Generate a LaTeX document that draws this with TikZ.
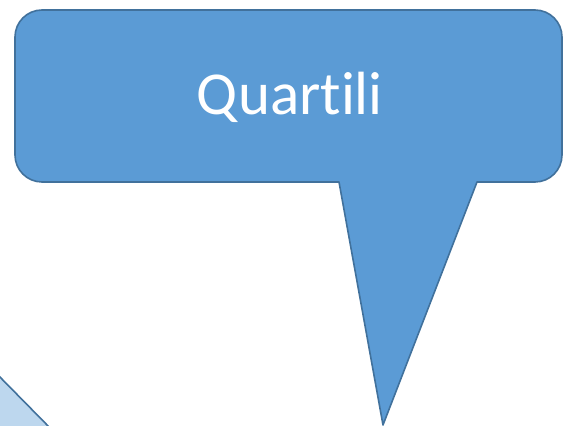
\documentclass[tikz,border=0pt]{standalone}
\usepackage{fontspec}
\setmainfont[Ligatures={NoCommon,NoRare,NoContextual}]{Carlito}
\definecolor{calloutfill}{HTML}{5B9BD5}
\definecolor{calloutline}{HTML}{41719C}
\definecolor{lightfill}{HTML}{BDD7EE}
\begin{document}
\begin{tikzpicture}[x=1pt,y=1pt,
  shapeline/.style={draw=calloutline,line width=1.6pt,line join=round},
  labeltext/.style={text=white,font=\fontsize{61}{70}\selectfont,inner sep=0pt}]
\useasboundingbox (0,0) rectangle (563,426);
\clip (0,0) rectangle (563,426);
% bottom-left light shape
\fill[lightfill] (-5,54) -- (53,-5) -- (-5,-5) -- cycle;
\draw[shapeline] (-5,54) -- (53,-5);
% callout
\draw[shapeline,fill=calloutfill]
  (339,244) -- (42,244) arc[start angle=270,end angle=180,radius=27pt]
  -- (15,389) arc[start angle=180,end angle=90,radius=27pt]
  -- (535,416) arc[start angle=90,end angle=0,radius=27pt]
  -- (562,271) arc[start angle=0,end angle=-90,radius=27pt]
  -- (477,244) -- (383,1) -- cycle;
\node[labeltext,anchor=base] (lbl) at (290,311) {Quartili};
\end{tikzpicture}
\end{document}
